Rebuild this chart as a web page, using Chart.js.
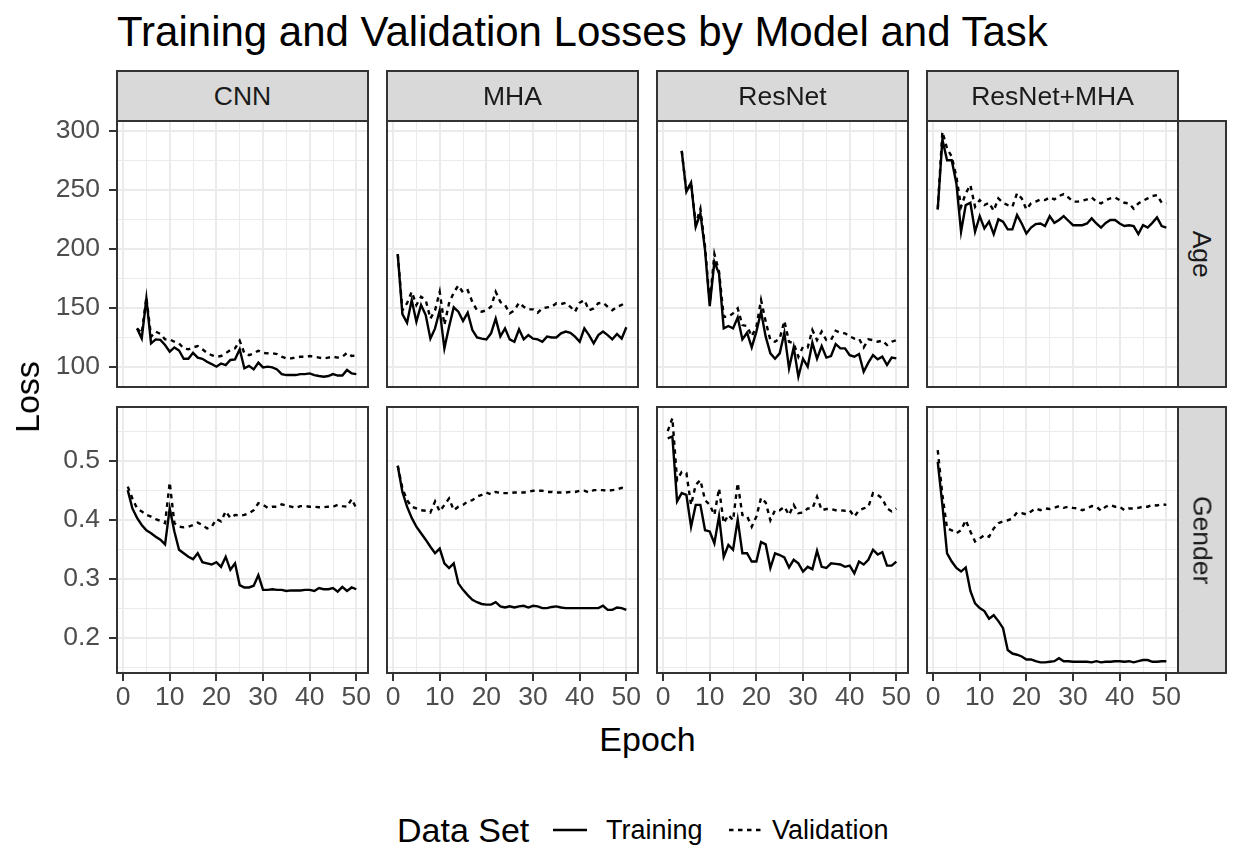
<!DOCTYPE html>
<html><head><meta charset="utf-8">
<script src="https://cdn.jsdelivr.net/npm/chart.js@4.4.1/dist/chart.umd.min.js"></script>
<style>
body{margin:0;background:#fff;width:1233px;height:850px;position:relative;overflow:hidden;font-family:"Liberation Sans",Arial,sans-serif;}
canvas{position:absolute;}
.txt{position:absolute;white-space:nowrap;line-height:1;}
.strip{position:absolute;background:#D9D9D9;border:2px solid #333333;box-sizing:border-box;color:#1A1A1A;font-size:26.5px;display:flex;align-items:center;justify-content:center;}
.strip span{display:inline-block;white-space:nowrap;line-height:1;}
</style></head><body>
<script>
// ---------------- DATA ----------------
const epochs = [1,2,3,4,5,6,7,8,9,10,11,12,13,14,15,16,17,18,19,20,21,22,23,24,25,26,27,28,29,30,31,32,33,34,35,36,37,38,39,40,41,42,43,44,45,46,47,48,49,50];
const models = ["CNN","MHA","ResNet","ResNet+MHA"];
const tasks = ["Age","Gender"];
const seriesNames = ["Training","Validation"];

const cnnAgeTrain = [null,null,132.7,124.3,158,120,123.4,123,118.6,113,116.6,114,107,107,112,108,107,104.5,102.5,100.3,103,101.7,106,106.5,115,99,101,98,103.7,99.7,100.3,99.7,98,94,93.2,93.2,93.2,94,94,94.6,93.2,92.4,91.8,92.4,94,92.8,92.8,97.5,94.6,94];
const cnnAgeVal = [null,null,132.7,128.5,159,125.7,130,128,123.4,123.4,121.4,120,115.8,115,116.6,117.8,115,112,110,108.7,109.3,111.6,114.4,115.8,122.3,111.6,110,111.6,113.8,112,111.6,111.6,111,108.7,107.3,107.3,108,108.7,108.7,109.3,108.7,108,107.3,108,108.7,108,108.7,112,109.3,110];
const mhaAgeTrain = [195.6,144.8,137.5,156.7,138.4,152.5,144,124,132.7,148,115.8,134,150.5,146.8,139,146,131.3,125,124,123.4,128.5,141,126,132.7,123.4,121.4,131.9,123.4,127,124,123.4,121.4,125.7,125,125,128.5,130,129,125.7,121.4,132.7,127,120,127,130,127,123.4,128,124,133.6];
const mhaAgeVal = [195.6,148,154,163.7,152.5,159.5,156.7,141,148,163.7,135.5,154,163,169,163,165,155,148,146.8,148,151,163.7,155,152.5,145.4,148,154.4,151,148.8,148.8,146,149.6,150.5,151,154,153.3,154.4,151,146.8,154.4,156.7,148,149.6,154,154.4,151,148,151,152.5,155.3];
const resnetAgeTrain = [null,null,null,283,248.3,256,218.7,230,199,151.6,189,179,132.7,134.7,132.7,142,123.4,129,116.6,130,146.8,125.7,111.6,107,111.6,129,98.9,116.6,91.8,107,100.3,120.6,107,117.8,108,109.3,119.5,115.8,115.8,110,108.7,111,96,103.7,110,106.5,108.7,101.7,108,107.3];
const resnetAgeVal = [null,null,null,283,248.3,256,221,234,201.8,154,195.6,180.6,142.6,142.6,145.4,149.6,135.5,134.7,126,134,156.7,138.4,122.8,121.4,124,139,121.4,120,108.7,117.2,116.6,131.3,122.8,130,122.8,122.8,130.7,129,128.5,126,124,124,116.6,123.4,122.8,121.4,122.3,118.6,121.4,122.8];
const resMhaAgeTrain = [233.4,292.6,275,275,255.4,214.5,237,239,214.5,227.7,217.3,223,212.5,225,223,216.5,216.5,228.6,221.5,213,218,221,221.5,219.3,227.7,222,224.4,227.7,223.8,220,220,220,221.5,225.8,221.5,218,222,224.4,224.4,221.5,219.3,220,219.3,212.5,220,218,222,226.6,219.3,218];
const resMhaAgeVal = [233.4,299,285,278,261,235.6,247,254,235.6,241.3,237,239,232.3,242.7,239,237,235.6,247,242.7,233.4,238.5,240,241.8,241.3,243.5,241.8,244.7,246.4,243.5,240,240,240.7,241.8,243.5,240,238.5,241.3,242.7,243.5,241.3,239,238.5,234,238.5,240.7,242.7,244.7,245.5,239,238.5];

const cnnGenTrain = [0.450,0.419,0.403,0.391,0.382,0.377,0.371,0.366,0.358,0.419,0.380,0.349,0.343,0.337,0.333,0.343,0.328,0.326,0.324,0.328,0.320,0.337,0.315,0.326,0.289,0.285,0.285,0.288,0.306,0.281,0.281,0.282,0.281,0.281,0.279,0.280,0.280,0.280,0.281,0.281,0.279,0.284,0.282,0.282,0.284,0.278,0.286,0.279,0.285,0.282];
const cnnGenVal = [0.456,0.436,0.419,0.414,0.408,0.405,0.401,0.398,0.394,0.463,0.394,0.388,0.387,0.388,0.391,0.395,0.391,0.385,0.388,0.401,0.397,0.414,0.403,0.408,0.407,0.408,0.411,0.416,0.428,0.425,0.420,0.422,0.422,0.426,0.424,0.422,0.420,0.423,0.423,0.422,0.422,0.421,0.421,0.422,0.422,0.425,0.423,0.422,0.435,0.419];
const mhaGenTrain = [0.4915,0.447,0.422,0.403,0.388,0.377,0.366,0.354,0.343,0.351,0.326,0.318,0.326,0.292,0.281,0.272,0.264,0.260,0.257,0.256,0.256,0.260,0.253,0.251,0.253,0.251,0.253,0.254,0.251,0.254,0.253,0.250,0.250,0.252,0.253,0.251,0.250,0.250,0.250,0.250,0.250,0.250,0.250,0.250,0.254,0.247,0.247,0.251,0.250,0.247];
const mhaGenVal = [0.4915,0.453,0.433,0.422,0.419,0.416,0.415,0.412,0.431,0.414,0.425,0.436,0.416,0.422,0.425,0.431,0.433,0.439,0.442,0.446,0.443,0.447,0.445,0.445,0.445,0.446,0.446,0.446,0.447,0.449,0.449,0.449,0.447,0.447,0.446,0.446,0.446,0.447,0.447,0.449,0.449,0.446,0.450,0.450,0.450,0.449,0.450,0.451,0.454,0.452];
const resnetGenTrain = [0.538,0.541,0.431,0.445,0.442,0.388,0.425,0.425,0.382,0.380,0.360,0.406,0.337,0.357,0.349,0.400,0.343,0.343,0.329,0.329,0.362,0.358,0.318,0.343,0.340,0.336,0.319,0.332,0.326,0.312,0.320,0.316,0.347,0.320,0.318,0.326,0.325,0.324,0.320,0.322,0.309,0.329,0.324,0.332,0.349,0.341,0.345,0.322,0.322,0.329];
const resnetGenVal = [0.550,0.572,0.467,0.481,0.479,0.425,0.459,0.467,0.433,0.425,0.408,0.453,0.394,0.408,0.399,0.462,0.408,0.406,0.388,0.405,0.437,0.429,0.399,0.416,0.416,0.422,0.408,0.425,0.411,0.412,0.419,0.419,0.439,0.416,0.418,0.418,0.416,0.416,0.415,0.416,0.405,0.416,0.419,0.422,0.445,0.442,0.436,0.419,0.414,0.419];
const resMhaGenTrain = [0.498,0.425,0.343,0.329,0.318,0.312,0.319,0.279,0.258,0.250,0.245,0.232,0.238,0.228,0.216,0.179,0.173,0.171,0.168,0.163,0.163,0.160,0.158,0.158,0.159,0.160,0.165,0.160,0.160,0.159,0.159,0.159,0.159,0.158,0.160,0.158,0.159,0.159,0.160,0.160,0.159,0.160,0.158,0.160,0.162,0.162,0.159,0.159,0.160,0.160];
const resMhaGenVal = [0.518,0.442,0.385,0.382,0.377,0.382,0.399,0.380,0.363,0.368,0.374,0.371,0.385,0.394,0.397,0.399,0.402,0.412,0.411,0.409,0.414,0.419,0.416,0.419,0.418,0.420,0.423,0.420,0.422,0.420,0.419,0.416,0.419,0.423,0.422,0.415,0.422,0.425,0.422,0.422,0.416,0.419,0.419,0.420,0.422,0.422,0.425,0.424,0.426,0.425];

// axis ticks
const epochMajor = [0,10,20,30,40,50];
const epochMinor = [5,15,25,35,45];
const ageMajor = [100,150,200,250,300];
const ageMinor = [125,175,225,275];
const genderMajor = [0.2,0.3,0.4,0.5];
const genderMinor = [0.15,0.25,0.35,0.45,0.55];
const genderLabels = ["0.2","0.3","0.4","0.5"];

const panelSeries = [
  [[cnnAgeTrain,cnnAgeVal],[mhaAgeTrain,mhaAgeVal],[resnetAgeTrain,resnetAgeVal],[resMhaAgeTrain,resMhaAgeVal]],
  [[cnnGenTrain,cnnGenVal],[mhaGenTrain,mhaGenVal],[resnetGenTrain,resnetGenVal],[resMhaGenTrain,resMhaGenVal]]
];

// ---------------- LAYOUT ----------------
const colLeft = [117, 387, 657, 927];
const panelW = 251;
const rowTop = [121, 407];
const panelH = 266;
const yAxisW = 72, xAxisH = 44, MH = 16, MV = 40;
const stripH = 52, stripW = 50;
const xRange = [-1.3, 52.5];
const yRanges = [[83.1, 308.2],[0.140, 0.591]];
const FONT = '"Liberation Sans", Arial, sans-serif';
const TICK = 26.5;

function addDiv(cls, html, style){const d=document.createElement('div');d.className=cls;d.innerHTML=html;Object.assign(d.style,style);document.body.appendChild(d);return d;}

const borderPlugin = {id:'panelBorder', afterDatasetsDraw(chart){const {ctx, chartArea:a}=chart; ctx.save(); ctx.strokeStyle='#333333'; ctx.lineWidth=2; ctx.strokeRect(a.left, a.top, a.right-a.left, a.bottom-a.top); ctx.restore();}};

function isMajor(list, v){return list.some(m=>Math.abs(m-v)<1e-9);}

for (let r=0;r<2;r++){
  for (let c=0;c<4;c++){
    const leftExt = c===0 ? yAxisW : MH;
    const bottomExt = r===1 ? xAxisH : MV;
    const cv = document.createElement('canvas');
    const w = leftExt + panelW + MH, h = MV + panelH + bottomExt;
    cv.width = w; cv.height = h;
    cv.style.left = (colLeft[c]-leftExt)+'px'; cv.style.top = (rowTop[r]-MV)+'px';
    cv.style.width = w+'px'; cv.style.height = h+'px';
    document.body.appendChild(cv);
    const [tr, va] = panelSeries[r][c];
    const yMaj = r===0 ? ageMajor : genderMajor;
    const yMin = r===0 ? ageMinor : genderMinor;
    const yAll = yMaj.concat(yMin).sort((a,b)=>a-b);
    const xAll = epochMajor.concat(epochMinor).sort((a,b)=>a-b);
    new Chart(cv.getContext('2d'), {
      type:'line',
      data:{datasets:[
        {label:seriesNames[0], data:epochs.map((e,i)=>({x:e,y:tr[i]})), borderColor:'#000000', borderWidth:2.4, pointRadius:0, tension:0, spanGaps:false, fill:false},
        {label:seriesNames[1], data:epochs.map((e,i)=>({x:e,y:va[i]})), borderColor:'#000000', borderWidth:2.4, borderDash:[4.5,4.5], pointRadius:0, tension:0, spanGaps:false, fill:false}
      ]},
      options:{
        responsive:false, animation:false, devicePixelRatio:1,
        layout:{padding:{left: c===0?0:MH, right:MH, top:MV, bottom: r===1?0:MV}},
        plugins:{legend:{display:false}, tooltip:{enabled:false}},
        scales:{
          x:{type:'linear', min:xRange[0], max:xRange[1],
             afterBuildTicks:s=>{s.ticks = xAll.map(v=>({value:v}));},
             afterFit:s=>{s.height = r===1 ? xAxisH : 0;},
             border:{display:false},
             grid:{color:'#EBEBEB', lineWidth:ctx=>isMajor(epochMajor, ctx.tick ? ctx.tick.value : 0)?2:1,
                   drawTicks:r===1, tickLength:8, tickWidth:2,
                   tickColor:ctx=>(ctx.tick && isMajor(epochMajor, ctx.tick.value))?'#333333':'rgba(0,0,0,0)'},
             ticks:{display:r===1, autoSkip:false, maxRotation:0, minRotation:0, padding:1, color:'#4D4D4D',
                    font:{family:FONT, size:TICK},
                    callback:v=>isMajor(epochMajor,v)?String(v):''}
          },
          y:{type:'linear', min:yRanges[r][0], max:yRanges[r][1],
             afterBuildTicks:s=>{s.ticks = yAll.map(v=>({value:v}));},
             afterFit:s=>{s.width = c===0 ? yAxisW : 0;},
             border:{display:false},
             grid:{color:'#EBEBEB', lineWidth:ctx=>isMajor(yMaj, ctx.tick ? ctx.tick.value : 0)?2:1,
                   drawTicks:c===0, tickLength:8, tickWidth:2,
                   tickColor:ctx=>(ctx.tick && isMajor(yMaj, ctx.tick.value))?'#333333':'rgba(0,0,0,0)'},
             ticks:{display:c===0, autoSkip:false, padding:9, color:'#4D4D4D',
                    font:{family:FONT, size:TICK},
                    callback:v=>{ if(!isMajor(yMaj,v)) return ''; if(r===0) return String(v); const k=genderMajor.findIndex(m=>Math.abs(m-v)<1e-9); return genderLabels[k]; }}
          }
        }
      },
      plugins:[borderPlugin]
    });
  }
}

// strips (top)
for (let c=0;c<4;c++){
  addDiv('strip','<span>'+models[c]+'</span>',{left:(colLeft[c]-1)+'px', top:(rowTop[0]-stripH+1)+'px', width:(panelW+2)+'px', height:stripH+'px'});
}
// strips (right)
for (let r=0;r<2;r++){
  addDiv('strip','<span style="transform:rotate(90deg)">'+tasks[r]+'</span>',{left:(colLeft[3]+panelW-1)+'px', top:(rowTop[r]-1)+'px', width:stripW+'px', height:(panelH+2)+'px'});
}

// title and axis titles
addDiv('txt','Training and Validation Losses by Model and Task',{left:'117px', top:'11px', fontSize:'42px', color:'#000'});
addDiv('txt','Epoch',{left:(colLeft[0]+ (colLeft[3]+panelW-colLeft[0])/2)+'px', top:'722px', fontSize:'34px', color:'#000', transform:'translateX(-50%)'});
addDiv('txt','Loss',{left:'27px', top:((rowTop[0]+rowTop[1]+panelH)/2)+'px', fontSize:'34px', color:'#000', transform:'translate(-50%,-50%) rotate(-90deg)'});

// legend
addDiv('txt','Data Set',{left:'397px', top:'813px', fontSize:'34px', color:'#000'});
addDiv('txt','<svg width="34" height="6" style="display:block"><line x1="0" y1="3" x2="34" y2="3" stroke="#000" stroke-width="2.4"/></svg>',{left:'553px', top:'827px'});
addDiv('txt','<svg width="32" height="6" style="display:block"><line x1="0" y1="3" x2="32" y2="3" stroke="#000" stroke-width="2.4" stroke-dasharray="4.5 4.5"/></svg>',{left:'729px', top:'827px'});
addDiv('txt','Training',{left:'606px', top:'817px', fontSize:'27px', color:'#000'});
addDiv('txt','Validation',{left:'772px', top:'817px', fontSize:'27px', color:'#000'});
</script>
</body></html>
